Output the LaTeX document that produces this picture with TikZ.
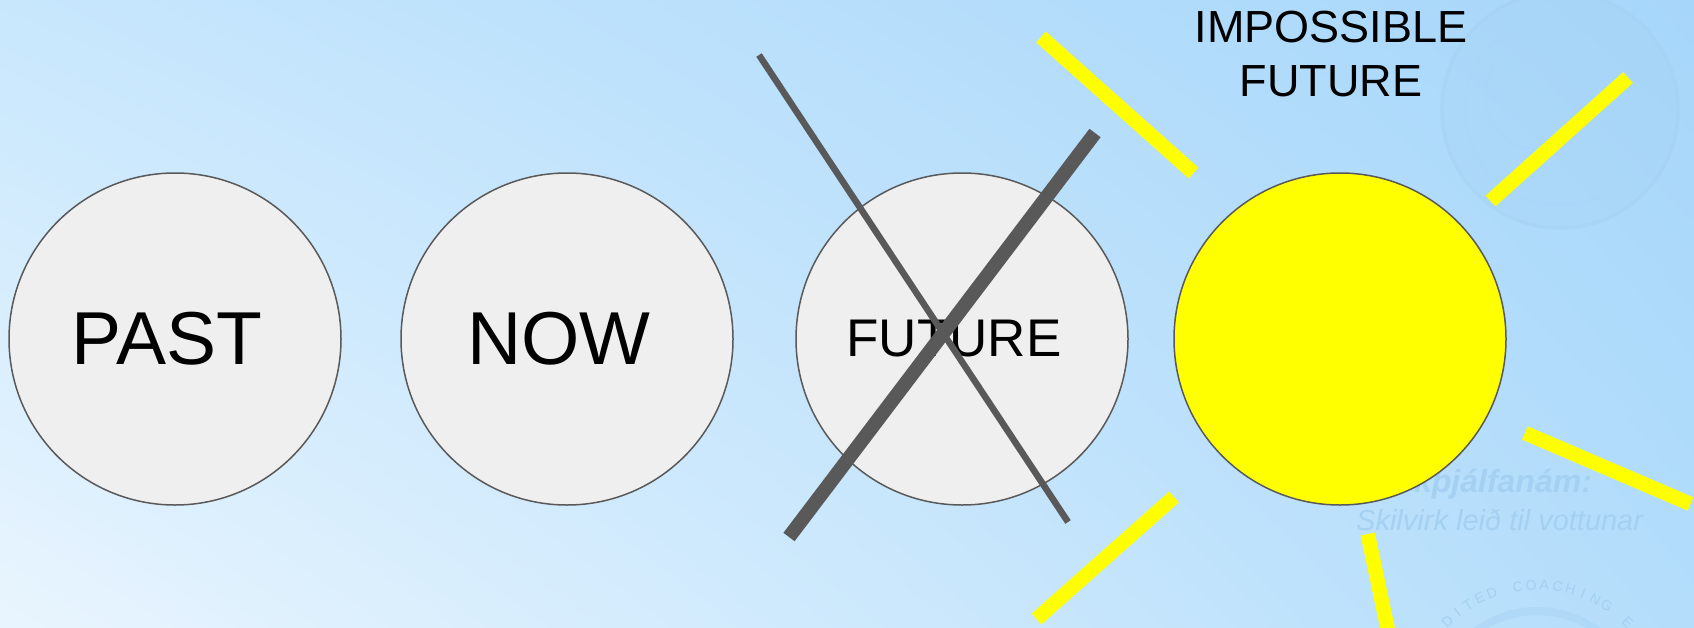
\documentclass[tikz,border=0pt]{standalone}
\usepackage{fontspec}
\setmainfont{Liberation Sans}
\usetikzlibrary{shadings,calc}
\definecolor{bgTL}{HTML}{C8E7FD}
\definecolor{bgTR}{HTML}{A6D6FA}
\definecolor{bgBL}{HTML}{E9F5FE}
\definecolor{bgBR}{HTML}{B3DDFB}
\definecolor{circfill}{HTML}{EFEFEF}
\definecolor{darkgrey}{HTML}{595959}
\definecolor{sunyellow}{HTML}{FFFF00}
\definecolor{wmark}{HTML}{A4D0F2}
\begin{document}
\begin{tikzpicture}[x=1pt,y=-1pt,
  bubble/.style={circle, draw=darkgrey, line width=1.5pt, fill=circfill,
    minimum size=332pt, inner sep=0pt, text=black},
  sunbubble/.style={bubble, fill=sunyellow},
  bigtext/.style={font=\fontsize{75}{90}\selectfont},
  midtext/.style={font=\fontsize{53}{64}\selectfont},
  ray/.style={draw=sunyellow, line width=14.5pt},
  crossthin/.style={draw=darkgrey, line width=6.5pt},
  crossthick/.style={draw=darkgrey, line width=14pt},
  wmtext/.style={text=wmark, anchor=base west, inner sep=0pt}]
\useasboundingbox (0,0) rectangle (1694,627);
\shade[upper left=bgTL, upper right=bgTR, lower left=bgBL, lower right=bgBR]
  (0,0) rectangle (1694,627);
\begin{scope}
\clip (0,0) rectangle (1694,627);
% faint watermark logo top right
\fill[wmark, opacity=0.22] (1560,110) circle (120);
\draw[wmark, opacity=0.35, line width=3pt] (1560,110) circle (118);
\draw[bgTR, opacity=0.4, line width=2pt] (1560,110) circle (95);
\draw[bgTR, opacity=0.35, line width=2pt] (1540,95) circle (55);
% faint watermark ring bottom right
\draw[wmark, opacity=0.4, line width=8pt] (1537,713) circle (102);
\foreach \ch [count=\i] in {D,I,T,E,D,{},C,O,A,C,H,I,N,G,{},E}{
  \pgfmathsetmacro{\ang}{225.5+(\i-1)*5.97}
  \node[text=wmark, font=\fontsize{14}{16}\selectfont, inner sep=0pt,
    rotate={-\ang-90}] at ($(1537,713)+(\ang:128)$) {\ch};
}
\end{scope}
\node[wmtext, font=\fontsize{32}{38}\selectfont\bfseries\itshape] (wm1) at (1357,492) {Markþjálfanám:};
\node[wmtext, font=\fontsize{29}{35}\selectfont\itshape] (wm2) at (1356,530) {Skilvirk leið til vottunar};
% circles
\node[bubble, bigtext] (past) at (175,339) {\hspace*{-16pt}PAST};
\node[bubble, bigtext] (now) at (567,339) {\hspace*{-16pt}NOW};
\node[bubble, midtext] (future) at (962,339) {\hspace*{-16pt}FUTURE};
\node[sunbubble] (sun) at (1340,339) {};
% cross
\coordinate (t1) at (759,55);
\coordinate (t2) at (1068,522);
\coordinate (k1) at (1095,133);
\coordinate (k2) at (789,537);
\draw[crossthin] (t1) -- (t2);
\draw[crossthick] (k1) -- (k2);
% rays
\coordinate (r1a) at (1041,37);   \coordinate (r1b) at (1193.5,173);
\coordinate (r2a) at (1490.5,201); \coordinate (r2b) at (1628,77.5);
\coordinate (r3a) at (1525,433);  \coordinate (r3b) at (1690.5,504);
\coordinate (r4a) at (1367.7,534); \coordinate (r4b) at (1390,640);
\coordinate (r5a) at (1174,497);  \coordinate (r5b) at (1036.5,619);
\begin{scope}
\clip (0,0) rectangle (1694,627);
\draw[ray] (r1a) -- (r1b);
\draw[ray] (r2a) -- (r2b);
\draw[ray] (r3a) -- (r3b);
\draw[ray] (r4a) -- (r4b);
\draw[ray] (r5a) -- (r5b);
\end{scope}
\node[align=center, font=\fontsize{45}{54}\selectfont, inner sep=0pt] (title) at (1331,54) {IMPOSSIBLE\\FUTURE};
\end{tikzpicture}
\end{document}
